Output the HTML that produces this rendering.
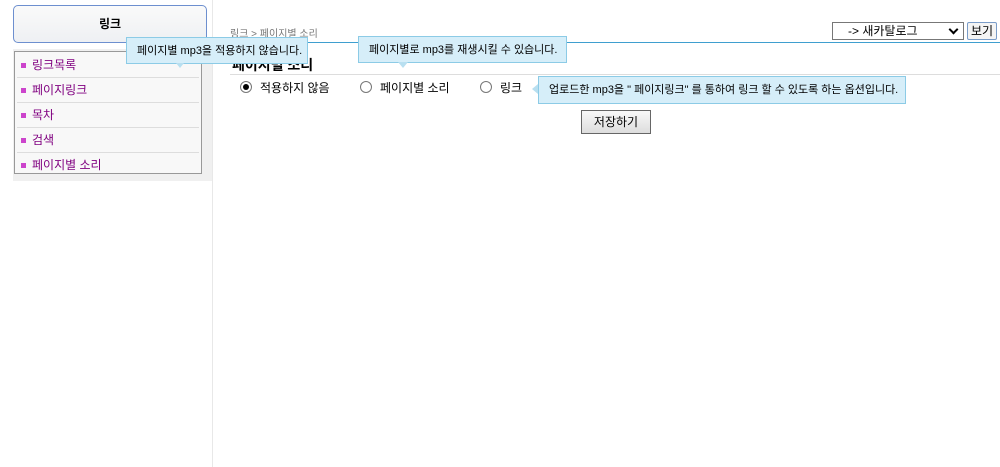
<!DOCTYPE html>
<html><head><meta charset="utf-8"><style>
body{margin:0;width:1000px;height:467px;background:#fff;position:relative;overflow:hidden;font-family:"Liberation Sans","Noto Sans CJK KR","NanumGothic",sans-serif;font-size:12px;color:#000}
.a{position:absolute}
.tip{position:absolute;background:#d6eef9;border:1px solid #8ccbe6;font-size:11px;line-height:26px;padding:0 10px;white-space:nowrap;box-sizing:border-box}
.menu div{height:24px;line-height:24px;border-bottom:1px solid #ddd;color:#800080;padding-left:4px;font-size:12px}
.menu div:before{content:"";display:inline-block;width:5px;height:5px;background:#cc44cc;margin-right:6px;vertical-align:middle}
.radio{display:inline-block;width:10px;height:10px;border:1px solid #777;border-radius:50%;vertical-align:-1px;margin-right:8px;position:relative;background:#fff}
</style></head><body>
<div class="a" style="left:212px;top:0;width:1px;height:467px;background:#e8e8e8"></div>
<div class="a" style="left:13px;top:5px;width:192px;height:36px;border:1px solid #6d8fcf;border-radius:5px;background:linear-gradient(#fafafa,#eef0f3);text-align:center;line-height:36px;font-weight:bold;font-size:12px">링크</div>
<div class="a" style="left:13px;top:49px;width:199px;height:132px;background:#f0f0f0"></div>
<div class="a menu" style="left:14px;top:51px;width:188px;height:123px;border:1px solid #999;background:#f8f8f8;padding:1px 2px 0;box-sizing:border-box">
<div>링크목록</div><div>페이지링크</div><div>목차</div><div>검색</div><div style="border:none">페이지별 소리</div></div>
<div class="a" style="left:230px;top:25px;font-size:10px;color:#777">링크 &gt; 페이지별 소리</div>
<div class="a" style="left:230px;top:42px;width:770px;height:1px;background:#3f9fcf"></div>
<div class="a" style="left:832px;top:22px;width:132px;height:18px;border:1px solid #777;box-sizing:border-box;font-size:12px;line-height:16px;padding-left:15px">-&gt; 새카탈로그<span style="position:absolute;right:6px;top:3px;width:5px;height:5px;border-right:2px solid #000;border-bottom:2px solid #000;transform:rotate(45deg)"></span></div>
<div class="a" style="left:967px;top:22px;width:30px;height:18px;border:1px solid #7a9cc8;border-radius:2px;box-sizing:border-box;font-size:12px;line-height:16px;text-align:center;background:#f4f4f4">보기</div>
<div class="a" style="left:232px;top:55px;font-size:14px;font-weight:bold">페이지별 소리</div>
<div class="a" style="left:230px;top:74px;width:770px;height:1px;background:#ddd"></div>
<div class="a" style="left:240px;top:80px;font-size:12px;line-height:16px"><span class="radio"><span style="position:absolute;left:2px;top:2px;width:6px;height:6px;border-radius:50%;background:#000"></span></span>적용하지 않음</div>
<div class="a" style="left:360px;top:80px;font-size:12px;line-height:16px"><span class="radio"></span>페이지별 소리</div>
<div class="a" style="left:480px;top:80px;font-size:12px;line-height:16px"><span class="radio"></span>링크</div>
<div class="a" style="left:581px;top:110px;width:70px;height:24px;border:1px solid #666;box-sizing:border-box;background:linear-gradient(#f8f8f8,#ddd);text-align:center;line-height:22px;font-size:12px">저장하기</div>
<div class="tip" style="left:126px;top:37px;width:182px;height:27px">페이지별 mp3을 적용하지 않습니다.</div>
<div class="tip" style="left:358px;top:36px;width:209px;height:27px">페이지별로 mp3를 재생시킬 수 있습니다.</div>
<div class="a" style="left:398px;top:62px;width:0;height:0;border-left:5px solid transparent;border-right:5px solid transparent;border-top:6px solid #b8dff0"></div>
<div class="a" style="left:176px;top:63px;width:0;height:0;border-left:4px solid transparent;border-right:4px solid transparent;border-top:5px solid #b8dff0"></div>
<div class="tip" style="left:538px;top:76px;width:368px;height:28px">업로드한 mp3을 " 페이지링크" 를 통하여 링크 할 수 있도록 하는 옵션입니다.</div>
<div class="a" style="left:532px;top:84px;width:0;height:0;border-top:5px solid transparent;border-bottom:5px solid transparent;border-right:6px solid #b8dff0"></div>
</body></html>
